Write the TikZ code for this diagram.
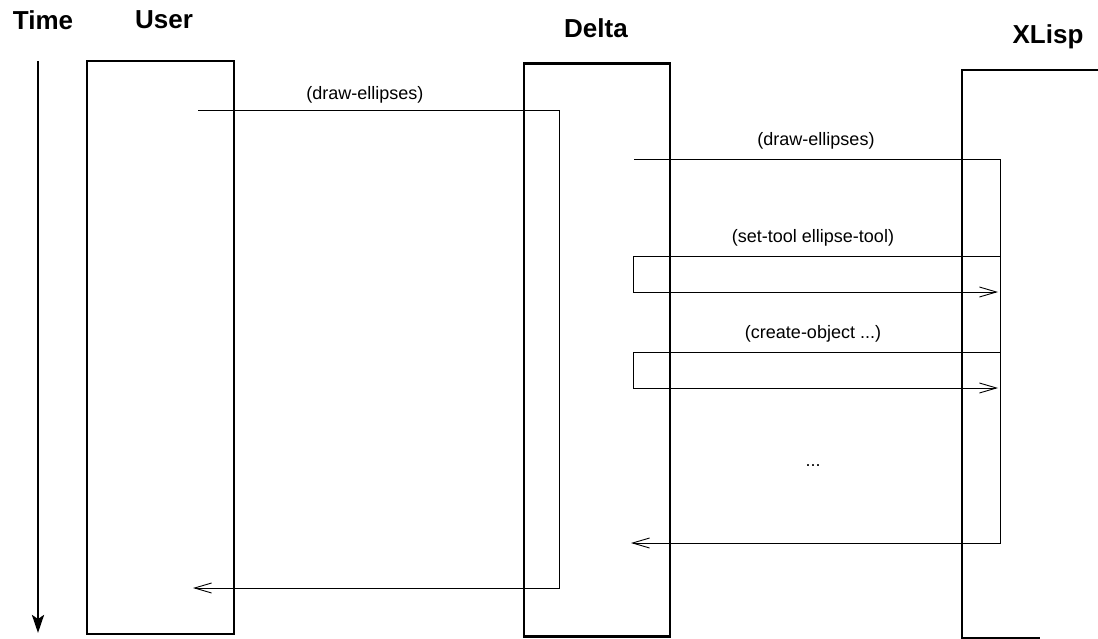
\documentclass[tikz,border=0pt]{standalone}
\usepackage{fontspec}
\setmainfont{Liberation Sans}
\usepackage{tikz}
\usetikzlibrary{positioning,arrows.meta,calc}

\begin{document}
\begin{tikzpicture}[
  x=1pt, y=-1pt,
  font=\fontsize{18}{20}\selectfont,
  title/.style = {font=\fontsize{26}{28}\selectfont\bfseries, inner sep=0pt},
  life/.style  = {draw, line width=2.8pt, inner sep=0pt, outer sep=0pt},
  msg/.style   = {draw, line width=0.8pt},
  call/.style  = {msg, -{Straight Barb[length=17pt, width=10pt, line width=0.9pt]}},
  lbl/.style   = {inner sep=0pt},
  timeline/.style = {draw, line width=2.8pt, -{Stealth[length=18pt, width=12pt, inset=4pt]}},
]
\useasboundingbox (0,0) rectangle (1098,639);

% ---- headings ---------------------------------------------------------
\node[title] at (43, 20)   (time)  {Time};
\node[title] at (164, 20)  (user)  {User};
\node[title] at (596, 28)  (delta) {Delta};
\node[title] at (1048, 37) (xlisp) {XLisp};

% ---- time axis --------------------------------------------------------
\coordinate (t0) at (38, 61);
\coordinate (t1) at (38, 633);
\draw[timeline] (t0) -- (t1);

% ---- life boxes -------------------------------------------------------
\node[life, minimum width=147pt, minimum height=573pt] at (160.5, 347.5) (ubox) {};
\node[life, minimum width=146pt, minimum height=573pt] at (597, 350)     (dbox) {};
% XLisp box runs off the right edge
\draw[line width=2.8pt] (1100, 70) -- (962, 70) -- (962, 638) -- (1040, 638);

% ---- message end points -----------------------------------------------
\coordinate (uout)  at (198, 110);
\coordinate (dback) at (559, 588);
\coordinate (uin)   at (193, 588);

\coordinate (dout)  at (634, 159);
\coordinate (xback) at (1000, 543);
\coordinate (din)   at (631, 543);

\coordinate (xa1) at (1000, 256);
\coordinate (da1) at (633, 292);
\coordinate (xb1) at (998, 292);

\coordinate (xa2) at (1000, 352);
\coordinate (da2) at (633, 388);
\coordinate (xb2) at (998, 388);

% ---- messages ---------------------------------------------------------
\draw[call] (uout) -| (dback) -- (uin);
\draw[call] (dout) -| (xback) -- (din);
\draw[call] (xa1) -| (da1) -- (xb1);
\draw[call] (xa2) -| (da2) -- (xb2);

% ---- labels -----------------------------------------------------------
\node[lbl] at (365, 95)  (l1) {(draw-ellipses)};
\node[lbl] at (816, 141) (l2) {(draw-ellipses)};
\node[lbl] at (813, 238) (l3) {(set-tool ellipse-tool)};
\node[lbl] at (813, 334) (l4) {(create-object ...)};
\node[lbl] at (813, 466) (l5) {...};

\end{tikzpicture}
\end{document}
